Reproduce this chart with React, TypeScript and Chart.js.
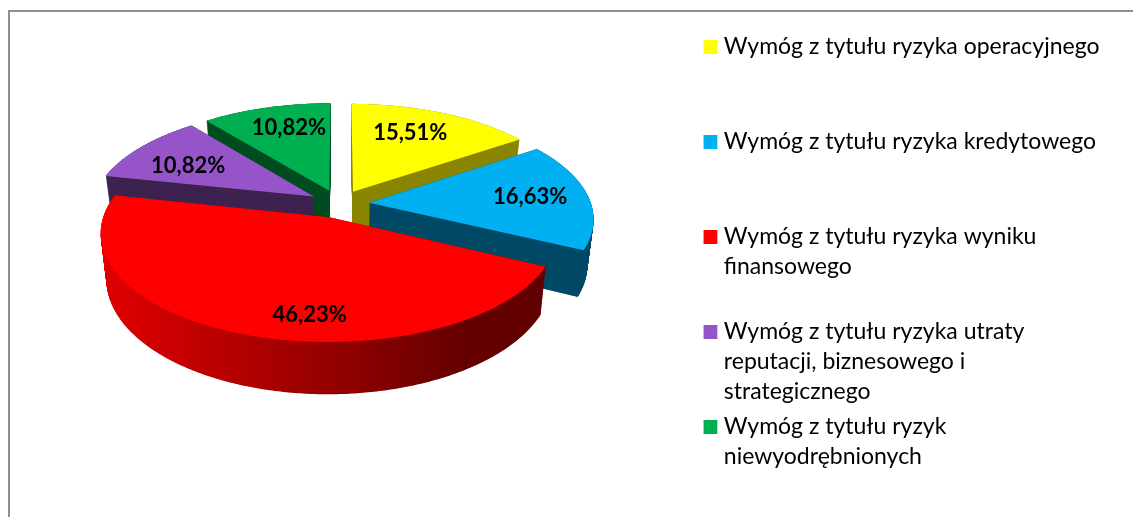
import React, { useEffect, useRef } from "react";
import { Chart, registerables, ArcElement } from "chart.js";

const categoryLines: string[][] = [
  ["Wymóg z tytułu ryzyka operacyjnego"],
  ["Wymóg z tytułu ryzyka kredytowego"],
  ["Wymóg z tytułu ryzyka wyniku", "finansowego"],
  ["Wymóg z tytułu ryzyka utraty", "reputacji, biznesowego i", "strategicznego"],
  ["Wymóg z tytułu ryzyk", "niewyodrębnionych"],
];
const shares = [15.51, 16.63, 46.23, 10.82, 10.82];
const topColors = ["#ffff00", "#00b0f0", "#ff0000", "#9555c8", "#00b050"];
const sideColors = ["#8a8600", "#004a66", "#a00000", "#3e2350", "#004d22"];
const sideOrder = [4, 3, 0, 1, 2];
const labelAlong = [0.44, 0.5, 0.417, 0.4, 0.57];
const labelOut = [0.7, 0.735, 0.81, 0.68, 0.72];

const TILT = 0.465;
const PERSPECTIVE = 0.14;
const DEPTH = 44;
const DEPTH_SHRINK = 0.024;
const SHIFT_X = -12.5;
const SHIFT_Y = -70;
const FONT = "Lato, Carlito, Calibri, sans-serif";

type Pt = [number, number];

function project(el: any, u: number, v: number, z: number): Pt {
  const s = 1 / (1 - (PERSPECTIVE * v) / el.outerRadius);
  return [el.x + SHIFT_X + u * s * (1 - DEPTH_SHRINK * z), el.y + SHIFT_Y + TILT * v * s + DEPTH * z * s];
}

function planePoint(el: any, angle: number, r: number): Pt {
  const mid = (el.startAngle + el.endAngle) / 2;
  const off = el.options.offset || 0;
  return [off * Math.cos(mid) + r * Math.cos(angle), off * Math.sin(mid) + r * Math.sin(angle)];
}

function slicePath(ctx: CanvasRenderingContext2D, el: any, z: number) {
  const steps = Math.max(2, Math.ceil((el.endAngle - el.startAngle) * 90));
  ctx.beginPath();
  const c = planePoint(el, 0, 0);
  const p0 = project(el, c[0], c[1], z);
  ctx.moveTo(p0[0], p0[1]);
  for (let i = 0; i <= steps; i++) {
    const a = el.startAngle + ((el.endAngle - el.startAngle) * i) / steps;
    const q = planePoint(el, a, el.outerRadius);
    const p = project(el, q[0], q[1], z);
    ctx.lineTo(p[0], p[1]);
  }
  ctx.closePath();
}

class TiltedArc extends ArcElement {
  static id = "tiltedArc";
  draw(ctx: CanvasRenderingContext2D) {
    ctx.save();
    ctx.fillStyle = (this as any).options.backgroundColor;
    slicePath(ctx, this, 0);
    ctx.fill();
    ctx.restore();
  }
}

const sidesPlugin = {
  id: "pieSides",
  beforeDatasetsDraw(chart: any) {
    const ctx: CanvasRenderingContext2D = chart.ctx;
    const arcs = chart.getDatasetMeta(0).data;
    sideOrder.forEach((i) => {
      const el = arcs[i];
      let fill: any = sideColors[i];
      if (i === 2) {
        const left = el.x + SHIFT_X - el.outerRadius - 15;
        const right = el.x + SHIFT_X + el.outerRadius;
        const g = ctx.createLinearGradient(left, 0, right, 0);
        g.addColorStop(0, "#e00000");
        g.addColorStop(0.25, "#bb0000");
        g.addColorStop(0.55, "#8c0000");
        g.addColorStop(0.78, "#660000");
        g.addColorStop(1, "#600000");
        fill = g;
      }
      ctx.save();
      ctx.fillStyle = fill;
      for (let d = DEPTH; d >= 0; d -= 0.5) {
        slicePath(ctx, el, d / DEPTH);
        ctx.fill();
      }
      ctx.restore();
    });
  },
  afterDatasetsDraw(chart: any) {
    const ctx: CanvasRenderingContext2D = chart.ctx;
    const arcs = chart.getDatasetMeta(0).data;
    ctx.save();
    ctx.font = `bold 22px ${FONT}`;
    ctx.fillStyle = "#000000";
    ctx.textAlign = "center";
    ctx.textBaseline = "middle";
    arcs.forEach((el: any, i: number) => {
      const a = el.startAngle + (el.endAngle - el.startAngle) * labelAlong[i];
      const q = planePoint(el, a, el.outerRadius * labelOut[i]);
      const p = project(el, q[0], q[1], 0);
      ctx.fillText(shares[i].toFixed(2).replace(".", ",") + "%", p[0], p[1]);
    });
    ctx.restore();
  },
};

Chart.register(...registerables, TiltedArc);
(Chart.defaults as any).datasets.pie.dataElementType = "tiltedArc";

export default function App() {
  const ref = useRef<HTMLCanvasElement>(null);
  useEffect(() => {
    const chart = new Chart(ref.current as HTMLCanvasElement, {
      type: "pie",
      data: {
        labels: categoryLines.map((l) => l.join(" ")),
        datasets: [
          {
            data: shares,
            backgroundColor: topColors,
            borderWidth: 0,
            offset: 30,
          } as any,
        ],
      },
      plugins: [sidesPlugin],
      options: {
        responsive: false,
        animation: false,
        radius: 222,
        layout: { padding: { top: 30.5, right: 23.5, bottom: 0, left: 0 } },
        plugins: {
          tooltip: { enabled: false },
          legend: {
            position: "right",
            align: "start",
            labels: {
              boxWidth: 4,
              boxHeight: 4,
              padding: 5,
              color: "#0d0d0d",
              font: { family: FONT, size: 23, lineHeight: "30px" },
              generateLabels: () =>
                categoryLines.map((lines, i) => ({
                  text: [...lines, "", ""].slice(0, 3),
                  fillStyle: topColors[i],
                  strokeStyle: topColors[i],
                  lineWidth: 10,
                  index: i,
                  hidden: false,
                })),
            },
          },
        },
      } as any,
    });
    return () => chart.destroy();
  }, []);
  return (
    <div style={{ position: "fixed", left: 0, top: 0, width: 1133, height: 517, overflow: "hidden", background: "#fff" }}>
      <div
        style={{
          position: "absolute",
          left: 8,
          top: 10,
          width: 1200,
          height: 600,
          borderLeft: "2px solid #8e8e8e",
          borderTop: "2px solid #8e8e8e",
        }}
      />
      <canvas ref={ref} width={1133} height={517} style={{ position: "absolute", left: 0, top: 0 }} />
    </div>
  );
}
